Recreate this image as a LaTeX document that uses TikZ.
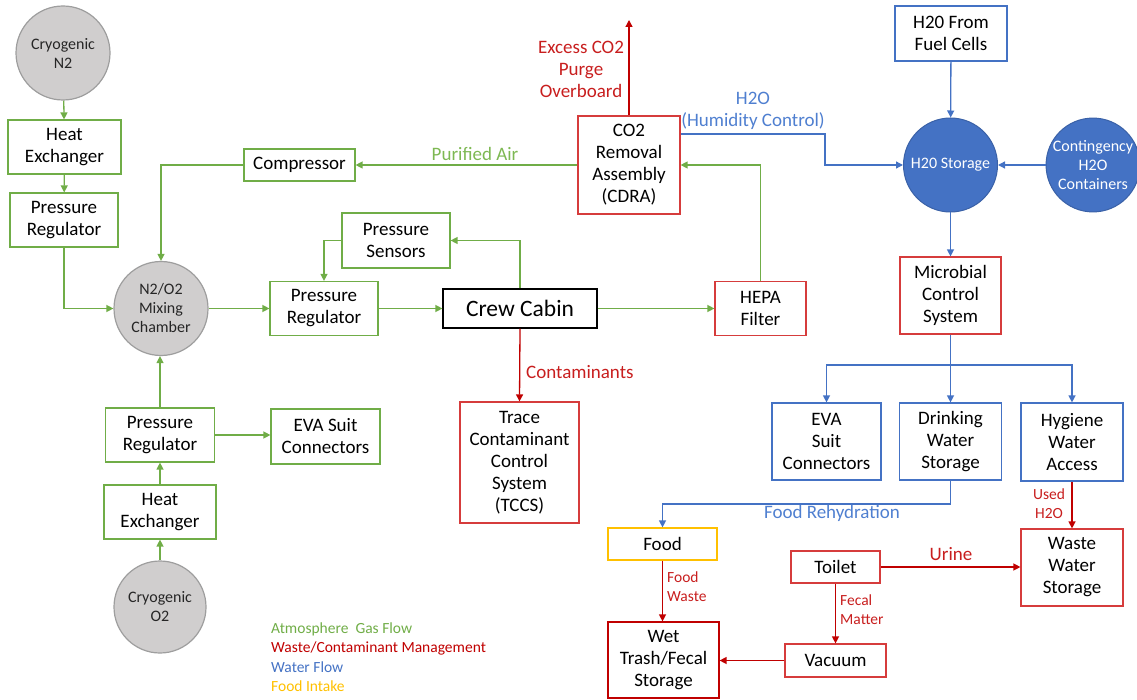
\documentclass[tikz,border=0pt]{standalone}
\usepackage{fontspec}
\setmainfont{Carlito}
\usetikzlibrary{arrows.meta}
\definecolor{gG}{HTML}{70AD47}
\definecolor{gT}{HTML}{7DB852}
\definecolor{rB}{HTML}{D63C3C}
\definecolor{rL}{HTML}{C00000}
\definecolor{rT}{HTML}{C81E1E}
\definecolor{bB}{HTML}{4472C4}
\definecolor{bT}{HTML}{4F7FD0}
\definecolor{yB}{HTML}{FFC000}
\definecolor{grF}{HTML}{D0CECE}
\definecolor{grB}{HTML}{9E9E9E}
\begin{document}
\begin{tikzpicture}[x=1pt,y=-1pt,
  box/.style={draw, line width=1.2pt, fill=white, align=center, inner sep=0pt, font=\fontsize{19}{22}\selectfont},
  sz/.style 2 args={minimum width=#1pt, minimum height=#2pt},
  gbox/.style={box, draw=gG},
  rbox/.style={box, draw=rB},
  bbox/.style={box, draw=bB},
  ybox/.style={box, draw=yB},
  gcirc/.style={circle, draw=grB, fill=grF, line width=1.2pt, minimum size=#1pt, inner sep=0pt, align=center, font=\fontsize{16}{19}\selectfont, text=black!85},
  bcirc/.style={circle, draw=bB!85!black, fill=bB, line width=1pt, minimum size=#1pt, inner sep=0pt, align=center, font=\fontsize{16}{19}\selectfont, text=white},
  tip/.style={-{Triangle[length=7pt,width=7pt]}},
  gar/.style={draw=gG, line width=1.3pt, tip},
  rar/.style={draw=rL, line width=1.3pt, tip},
  bar/.style={draw=bB, line width=1.3pt, tip},
  bln/.style={draw=bB, line width=1.3pt},
  lbl/.style={inner sep=0pt, align=center, font=\fontsize{19}{22}\selectfont},
  slbl/.style={inner sep=0pt, align=left, font=\fontsize{15.5}{19}\selectfont},
  leg/.style={inner sep=0pt, anchor=west, font=\fontsize{15.5}{19}\selectfont}
]
\useasboundingbox (0,0) rectangle (1137,700);

% ---------- atmosphere (green) ----------
\node[gcirc=94] (cryoN2) at (63,53) {Cryogenic\\N2};
\node[gbox, sz={113}{54}] (he1) at (64.5,147) {Heat\\Exchanger};
\node[gbox, sz={108}{54}] (pr1) at (64,220) {Pressure\\Regulator};
\node[gcirc=94] (mix) at (161,308.5) {N2/O2\\Mixing\\Chamber};
\node[gbox, sz={111}{32}] (comp) at (299.5,165) {Compressor};
\node[gbox, sz={108}{54}] (pr2) at (324,308.5) {Pressure\\Regulator};
\node[gbox, sz={108}{55}] (ps) at (396,240.5) {Pressure\\Sensors};
\node[gbox, sz={109}{54}] (pr3) at (160,435) {Pressure\\Regulator};
\node[gbox, sz={109}{55}] (evag) at (325.5,436.5) {EVA Suit\\Connectors};
\node[gbox, sz={112}{54}] (he2) at (160,512) {Heat\\Exchanger};
\node[gcirc=92] (cryoO2) at (160,607) {Cryogenic\\O2};

\node[box, draw=black, sz={154}{39}, font=\fontsize{23.5}{27}\selectfont] (cabin) at (520,308.5) {Crew Cabin};

% ---------- waste (red) ----------
\node[rbox, sz={102}{98}] (cdra) at (629,165) {CO2\\Removal\\Assembly\\(CDRA)};
\node[rbox, sz={91}{54}] (hepa) at (760.5,308.5) {HEPA\\Filter};
\node[rbox, sz={119}{121}] (tccs) at (519.5,462.5) {Trace\\Contaminant\\Control\\System\\(TCCS)};
\node[rbox, sz={101}{77}] (micro) at (950.5,295.5) {Microbial\\Control\\System};
\node[rbox, sz={102}{77}] (wws) at (1072,567.5) {Waste\\Water\\Storage};
\node[rbox, sz={89}{32}] (toilet) at (835.5,567) {Toilet};
\node[rbox, sz={101}{33}] (vac) at (835.5,660.5) {Vacuum};
\node[rbox, draw=rL, sz={111}{76}] (wet) at (663.5,660) {Wet\\Trash/Fecal\\Storage};

% ---------- water (blue) ----------
\node[bbox, sz={112}{55}] (fuel) at (951,33.5) {H20 From\\Fuel Cells};
\node[bcirc=94] (stor) at (950.5,165) {H20 Storage};
\node[bcirc=92] (cont) at (1093,165) {Contingency\\H2O\\Containers};
\node[bbox, sz={109}{77}] (evab) at (826.5,441.5) {EVA\\Suit\\Connectors};
\node[bbox, sz={102}{77}] (drink) at (950.5,441.5) {Drinking\\Water\\Storage};
\node[bbox, sz={102}{78}] (hyg) at (1072,442) {Hygiene\\Water\\Access};

% ---------- food (yellow) ----------
\node[ybox, sz={109}{32}] (food) at (662.5,544) {Food};

% ---------- green connectors ----------
\draw[gar] (cryoN2) -- (he1);
\draw[gar] (he1) -- (pr1);
\draw[gar] (pr1.south) |- (mix.west);
\draw[gar] (comp.west) -| (mix.north);
\draw[gar] (mix.east) -- (pr2.west);
\draw[gar] (ps.west) -| (pr2.north);
\draw[gar] (pr2.east) -- (cabin.west);
\draw[gar] (cabin.north) |- (ps.east);
\draw[gar] (cabin.east) -- (hepa.west);
\draw[gar] (hepa.north) |- (cdra.east);
\draw[gar] (cdra.west) -- (comp.east);
\draw[gar] (pr3.north) -- (pr3.north |- mix.south);
\draw[gar] (he2) -- (pr3);
\draw[gar] (cryoO2) -- (he2);
\draw[gar] (pr3.east) -- (evag.west |- pr3.east);
\node[lbl, text=gT] (lpa) at (475,154) {Purified Air};

% ---------- red connectors ----------
\coordinate (over) at (629,20);
\draw[rar] (cdra.north) -- (over);
\node[lbl, text=rT] (lex) at (581,69) {Excess CO2\\Purge\\Overboard};
\draw[rar] (cabin.south) -- (tccs.north);
\node[lbl, anchor=west, text=rT] (lcon) at (526,372) {Contaminants};
\draw[rar] (hyg.south) -- (wws.north);
\node[slbl, align=center, text=rT] (luse) at (1049,503.5) {Used\\H2O};
\draw[rar] (toilet.east) -- (wws.west |- toilet.east);
\node[lbl, text=rT] (luri) at (951,554) {Urine};
\draw[rar] (toilet.south) -- (vac.north);
\node[slbl, anchor=west, text=rT] (lfec) at (840,610) {Fecal\\Matter};
\draw[rar] (vac.west) -- (wet.east |- vac.west);
\draw[rar] (food.south) -- (wet.north -| food.south);
\node[slbl, anchor=west, text=rT] (lfw) at (667,586.5) {Food\\Waste};

% ---------- blue connectors ----------
\coordinate (hk) at (825,134);
\draw[bar] ([yshift=31pt]cdra.east) -- (hk) |- (stor.west);
\node[lbl, text=bT] (lh2o) at (753,110.5) {H2O\\(Humidity Control)};
\draw[bar] (fuel) -- (stor);
\draw[bar] (cont) -- (stor);
\draw[bar] (stor) -- (micro);
\coordinate (br) at (950.5,365);
\draw[bln] (micro.south) -- (br);
\draw[bar] (br) -- (drink.north);
\draw[bar] (br) -| (evab.north);
\draw[bar] (br) -| (hyg.north);
\coordinate (fr) at (950.5,504);
\draw[bar] (drink.south) -- (fr) -| (food.north);
\node[lbl, text=bT] (lfr) at (832,513) {Food Rehydration};

% ---------- legend ----------
\node[leg, text=gG] (lg1) at (271,629) {Atmosphere~ Gas Flow};
\node[leg, text=rL] (lg2) at (271,648) {Waste/Contaminant Management};
\node[leg, text=bB] (lg3) at (271,667) {Water Flow};
\node[leg, text=yB] (lg4) at (271,686) {Food Intake};
\end{tikzpicture}
\end{document}
